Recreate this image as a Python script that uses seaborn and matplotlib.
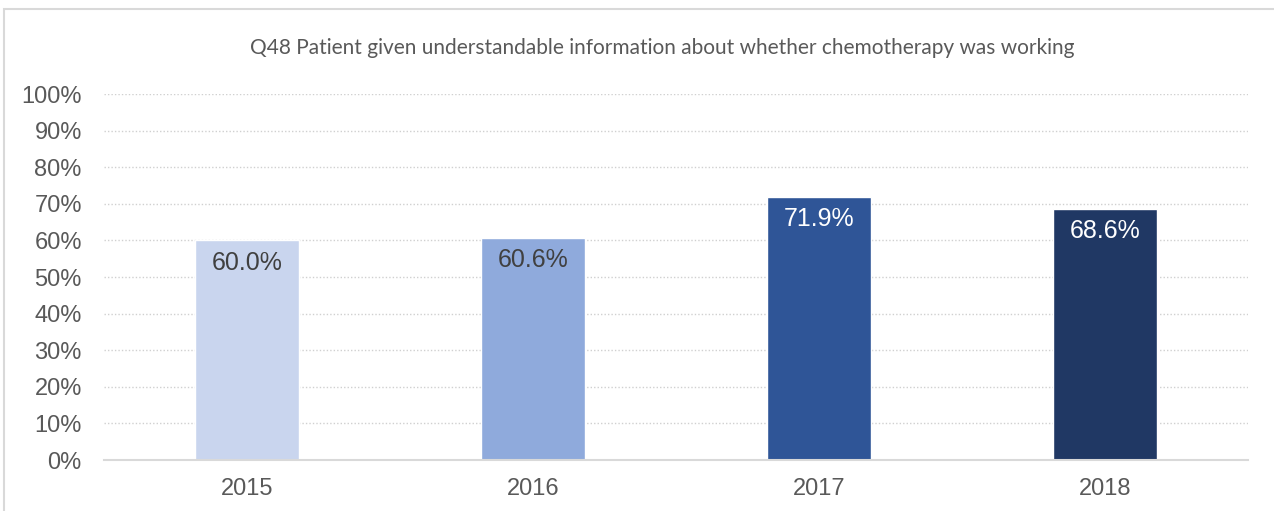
import matplotlib
matplotlib.use("Agg")
import matplotlib.pyplot as plt
import matplotlib.patches as mpatches
import seaborn as sns
import pandas as pd

years = ["2015", "2016", "2017", "2018"]
values = [60.0, 60.6, 71.9, 68.6]
bar_colors = ["#C9D5EE", "#8FAADC", "#2F5597", "#203864"]
label_colors = ["#404040", "#404040", "#FFFFFF", "#FFFFFF"]
yticks = list(range(0, 101, 10))
title = "Q48 Patient given understandable information about whether chemotherapy was working"

sns.set_theme(style="white")
plt.rcParams["font.family"] = ["Liberation Sans", "DejaVu Sans"]

df = pd.DataFrame({"year": years, "value": values})

fig = plt.figure(figsize=(12.74, 5.11), dpi=100)
ax = fig.add_axes([104 / 1274, 51 / 511, 1144 / 1274, 366 / 511])

sns.barplot(data=df, x="year", y="value", hue="year", palette=bar_colors,
            width=0.367, legend=False, ax=ax, saturation=1)

ax.set_ylim(0, 100)
ax.set_xlim(-0.5, 3.5)
ax.set_yticks(yticks)
ax.set_yticklabels([f"{t}%" for t in yticks], fontsize=17, color="#595959")
ax.tick_params(axis="x", labelsize=17, labelcolor="#595959", length=0, pad=13)
ax.tick_params(axis="y", length=0, pad=16)
ax.set_xlabel("")
ax.set_ylabel("")

for t in yticks[1:]:
    ax.axhline(t, color="#D0D0D0", lw=1, ls=(0, (1, 1.5)), zorder=0)
for s in ["top", "right", "left"]:
    ax.spines[s].set_visible(False)
ax.spines["bottom"].set_color("#D9D9D9")
ax.spines["bottom"].set_linewidth(1.5)

for container in ax.containers:
    for bar in container:
        i = int(round(bar.get_x() + bar.get_width() / 2))
        ax.annotate(f"{values[i]:.1f}%", (bar.get_x() + bar.get_width() / 2, values[i]),
                    xytext=(0, -16), textcoords="offset points",
                    ha="center", va="center", fontsize=18, color=label_colors[i])

fig.text(662 / 1274, 1 - 48 / 511, title, ha="center", va="center",
         fontsize=15, color="#595959", family=["Lato", "DejaVu Sans"])

fig.patches.append(mpatches.Rectangle((4 / 1274, -0.1), 1.2, 1.1 - 9 / 511,
                                      transform=fig.transFigure, fill=False,
                                      edgecolor="#D9D9D9", lw=1.5))

fig.savefig("out.png", dpi=100)
